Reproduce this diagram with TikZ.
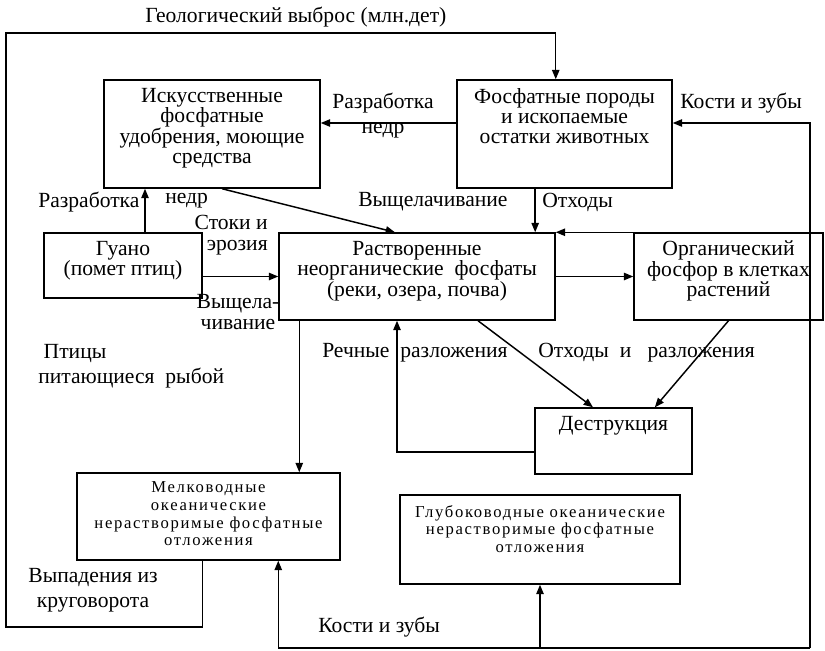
\documentclass[tikz,border=0pt]{standalone}
\usepackage{fontspec}
\setmainfont{Liberation Serif}
\newfontfamily\widefont[LetterSpace=10]{Liberation Serif}
\usetikzlibrary{arrows.meta, calc}
\newcommand{\boxesfont}{\fontsize{16.2}{15.25}\selectfont}
\newcommand{\notesfont}{\fontsize{16.2}{18.75}\selectfont}
\newcommand{\depositfont}{\widefont\fontsize{12.5}{13.3}\selectfont}
\newcommand{\cyclebox}[7][]{%
  \node[cyclebox, minimum width={(#5-#3)*0.75pt}, minimum height={(#6-#4)*0.75pt}]
        (#2) at ({(#3+#5)/2},{(#4+#6)/2}) {};
  \node[boxtext, #1] (#2-text) at (#2.north) {#7};}

\begin{document}
\begin{tikzpicture}[x=0.75pt, y=-0.75pt,
    cyclebox/.style={draw, line width=1.1pt, inner sep=0pt},
    boxtext/.style={anchor=north, align=center, inner xsep=0pt, inner ysep=6.5pt, font=\boxesfont},
    flow/.style={-{Triangle[length=7pt, width=5.5pt]}, line width=1.1pt},
    note/.style={inner sep=0pt, align=center, font=\notesfont}]
  \useasboundingbox (0,0) rectangle (825,650);

  \cyclebox{A}{104}{80}{320}{188}{Искусственные\\фосфатные\\удобрения, моющие\\средства}
  \cyclebox{P}{457}{80}{672}{188}{Фосфатные породы\\и ископаемые\\остатки животных}
  \cyclebox{G}{44}{233}{202}{298}{Гуано\\(помет птиц)}
  \cyclebox{R}{279}{233}{555}{320}{Растворенные\\неорганические\ \ фосфаты\\(реки, озера, почва)}
  \cyclebox{O}{634}{233}{823}{320}{Органический\\фосфор в клетках\\растений}
  \cyclebox{D}{535}{408}{692}{474}{Деструкция}
  \cyclebox[font=\depositfont, inner ysep=7pt]{M}{77}{473}{340}{560}{Мелководные\\океанические\\нерастворимые фосфатные\\отложения}
  \cyclebox[font=\depositfont, inner ysep=8pt]{Gl}{400}{495}{680}{584}{Глубоководные океанические\\нерастворимые фосфатные\\отложения}

  \coordinate (geoTL) at (6,33);
  \coordinate (geoBL) at (6,627);
  \coordinate (boneBR) at (810,648);

  \draw[flow] (M.south -| G.east) |- (geoBL) -- (geoTL) -| (P.north -| R.east);
  \draw[flow] ([yshift=8.25pt]P.west) -- ([yshift=8.25pt]A.east);
  \draw[flow] (boneBR) |- ([yshift=8.25pt]P.east);
  \draw[flow] (boneBR) -| (M.south -| R.west);
  \draw[flow] (Gl.south |- boneBR) -- (Gl.south);
  \draw[flow] (boneBR |- R.north) -- (R.north east);
  \draw[flow] ([xshift=-22pt]P.south) -- ([xshift=-22pt]P.south |- R.north);
  \draw[flow] ([xshift=7.5pt]A.south) -- ([xshift=-16.5pt]R.north);
  \draw[flow] ([xshift=16.5pt]G.north) -- ([xshift=16.5pt]G.north |- A.south);
  \draw[flow] (G.east |- R.west) -- (R.west);
  \draw[flow] (R.east) -- (O.west);
  \draw[flow] ([xshift=45.75pt]R.south) -- ([xshift=-15.4pt]D.north);
  \draw[flow] (O.south) -- ([xshift=31pt]D.north);
  \draw[flow] ([yshift=-8.25pt]D.west) -| ([xshift=-15pt]R.south);
  \draw[flow] ([xshift=15.75pt]R.south west) -- ([xshift=15.75pt]R.south west |- M.north);

  \node[note, anchor=west] (geo) at (145,17) {Геологический выброс (млн.дет)};
  \node[note] (mining) at (383,116) {Разработка\\недр};
  \node[note, anchor=west] (bones) at (680,103) {Кости и зубы};
  \node[note, anchor=west] (guanoA) at (38,202) {Разработка};
  \node[note, anchor=west] (guanoB) at (165,201) {недр};
  \node[note, anchor=west] (leach) at (358,202) {Выщелачивание};
  \node[note, anchor=west] (waste) at (542,202) {Отходы};
  \node[note, anchor=east, align=right, font=\fontsize{16.2}{16.2}\selectfont] (runoff) at (268,235) {Стоки и\\эрозия};
  \node[note, font=\fontsize{16.2}{15.5}\selectfont] (leachG) at (238,312) {Выщела-\\чивание};
  \node[note, anchor=west, align=left] (birds) at (38,366) {\ Птицы\\питающиеся\ \ рыбой};
  \node[note, anchor=west] (river) at (322,353) {Речные\ \ разложения};
  \node[note, anchor=west] (decay) at (538,353) {Отходы\ \ и\ \ \ разложения};
  \node[note] (fallout) at (93,590) {Выпадения из\\круговорота};
  \node[note, anchor=west] (bonesB) at (318,627) {Кости и зубы};
\end{tikzpicture}
\end{document}
